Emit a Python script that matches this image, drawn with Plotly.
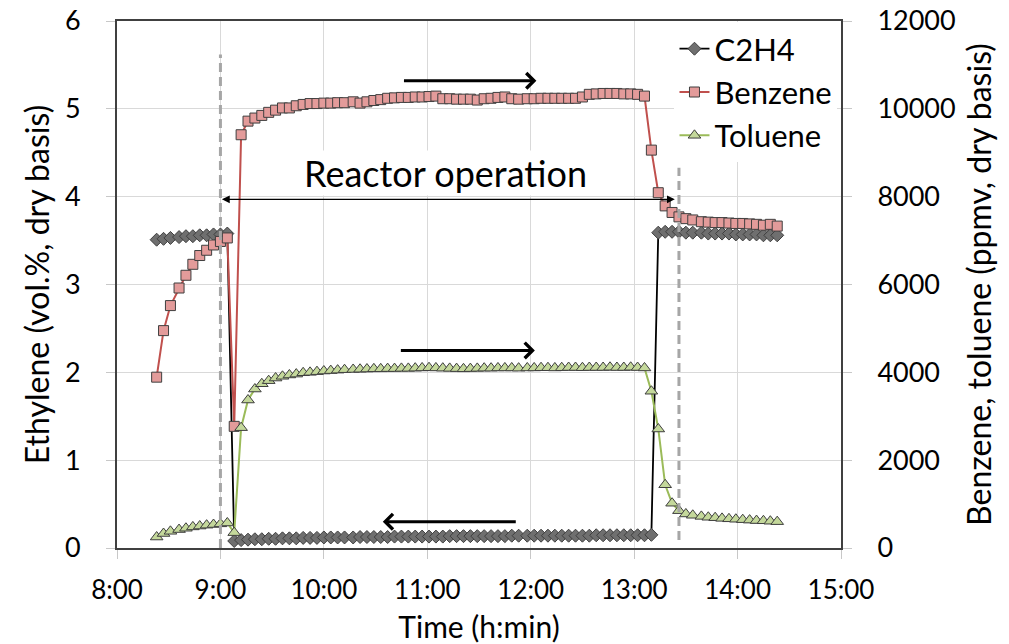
import plotly.graph_objects as go

# Sampling times (h:min) of the gas analysis
times = [
    "8:23", "8:27", "8:31", "8:36", "8:40", "8:44", "8:48", "8:52", "8:56", "9:00",
    "9:04", "9:08", "9:12", "9:16", "9:20", "9:24", "9:28", "9:32", "9:36", "9:40",
    "9:44", "9:48", "9:52", "9:56", "10:00", "10:04", "10:08", "10:12", "10:17", "10:21",
    "10:25", "10:29", "10:33", "10:37", "10:41", "10:45", "10:49", "10:53", "10:57", "11:01",
    "11:05", "11:09", "11:13", "11:17", "11:21", "11:25", "11:29", "11:33", "11:37", "11:41",
    "11:45", "11:49", "11:53", "11:58", "12:02", "12:06", "12:10", "12:14", "12:18", "12:22",
    "12:26", "12:30", "12:34", "12:38", "12:42", "12:46", "12:50", "12:54", "12:58", "13:02",
    "13:06", "13:10", "13:14", "13:18", "13:22", "13:26", "13:30", "13:34", "13:39", "13:43",
    "13:47", "13:51", "13:55", "13:59", "14:03", "14:07", "14:11", "14:15", "14:19", "14:23",
]

# Ethylene, vol.% (dry basis) - left axis
c2h4 = [
    3.51, 3.52, 3.53, 3.54, 3.55, 3.55, 3.56, 3.56, 3.57, 3.57, 3.58,
    0.08,
    0.09, 0.095, 0.10, 0.10, 0.105, 0.105, 0.11, 0.11, 0.11, 0.115,
    0.115, 0.115, 0.12, 0.12, 0.12, 0.12, 0.12, 0.125, 0.125, 0.125,
    0.125, 0.125, 0.13, 0.13, 0.13, 0.13, 0.13, 0.13, 0.13, 0.13,
    0.135, 0.135, 0.135, 0.135, 0.135, 0.135, 0.135, 0.135, 0.135, 0.14,
    0.14, 0.14, 0.14, 0.14, 0.14, 0.14, 0.14, 0.14, 0.14, 0.14,
    0.14, 0.145, 0.145, 0.145, 0.145, 0.145, 0.145, 0.145, 0.145, 0.15,
    3.59, 3.60, 3.60, 3.60, 3.59, 3.59, 3.59, 3.58, 3.58, 3.58,
    3.58, 3.57, 3.57, 3.57, 3.57, 3.56, 3.56, 3.56,
]

# Benzene, ppmv (dry basis) - right axis
benzene = [
    3890, 4950, 5520, 5920, 6210, 6460, 6660, 6780, 6900, 6980, 7060,
    2770,
    9410, 9720, 9790, 9850, 9920, 9970, 10020, 10020, 10070, 10100,
    10120, 10120, 10130, 10130, 10140, 10140, 10160, 10130, 10160, 10190,
    10210, 10240, 10250, 10260, 10260, 10270, 10270, 10280, 10290, 10230,
    10230, 10220, 10220, 10220, 10200, 10230, 10240, 10260, 10270, 10230,
    10220, 10230, 10230, 10240, 10240, 10240, 10240, 10240, 10240, 10270,
    10330, 10340, 10350, 10350, 10350,
    10340, 10340, 10330, 10290,
    9060, 8090, 7790, 7640, 7540,
    7500, 7470, 7430, 7420, 7410, 7410, 7400, 7390, 7390, 7380, 7370, 7350, 7370, 7330,
]

# Toluene, ppmv (dry basis) - right axis
toluene = [
    250, 330, 380, 420, 450, 480, 500, 520, 535, 550, 570,
    350,
    2740, 3370, 3620, 3740, 3810, 3870, 3910, 3940, 3960, 3990, 4000,
    4015, 4030, 4040, 4050, 4060, 4065, 4070, 4075, 4080, 4080,
    4085, 4085, 4090, 4090, 4095, 4100, 4105, 4100, 4095, 4090,
    4085, 4080, 4085, 4090, 4095, 4095, 4100, 4100, 4100, 4095,
    4100, 4100, 4105, 4105, 4100, 4105, 4110, 4110, 4105, 4110,
    4110, 4110, 4115, 4110, 4110, 4115, 4110, 4100,
    3570, 2710, 1440, 1020, 850,
    775, 745, 720, 700, 690, 675, 665, 655, 645, 635, 625, 620, 610, 600,
]

hour_ticks = [8, 9, 10, 11, 12, 13, 14, 15]
hour_labels = ["8:00", "9:00", "10:00", "11:00", "12:00", "13:00", "14:00", "15:00"]
ppm_ticks = [0, 2000, 4000, 6000, 8000, 10000, 12000]
ppm_labels = ["0", "2000", "4000", "6000", "8000", "10000", "12000"]

# Start/end of reactor operation (h:min)
op_start = "9:00"
op_end = "13:26"


def to_hours(s):
    h, m = s.split(":")
    return int(h) + int(m) / 60.0


t = [to_hours(s) for s in times]

FONT = "Lato"
EDGE = "#3f3f3f"

fig = go.Figure()

fig.add_trace(go.Scatter(
    x=t, y=c2h4, name="C2H4", mode="lines+markers",
    line=dict(color="#000000", width=1.8),
    marker=dict(symbol="diamond", size=10, color="#6f6f6f", line=dict(color=EDGE, width=1)),
))
fig.add_trace(go.Scatter(
    x=t, y=benzene, name="Benzene", mode="lines+markers", yaxis="y2",
    line=dict(color="#c0504d", width=2),
    marker=dict(symbol="square", size=10, color="#e39b9a", line=dict(color=EDGE, width=1)),
))
fig.add_trace(go.Scatter(
    x=t, y=toluene, name="Toluene", mode="lines+markers", yaxis="y2",
    line=dict(color="#9bbb59", width=2),
    marker=dict(symbol="triangle-up", size=11, color="#c4d89b", line=dict(color=EDGE, width=1)),
))

x0 = to_hours(op_start)
x1 = to_hours(op_end)

# Dashed markers for start and end of operation
fig.add_shape(type="line", xref="x", yref="y", x0=x0, x1=x0, y0=0, y1=5.62,
              line=dict(color="#a6a6a6", width=3, dash="9px,5px"), layer="above")
fig.add_shape(type="line", xref="x", yref="y", x0=x1, x1=x1, y0=0.09, y1=4.33,
              line=dict(color="#a6a6a6", width=3, dash="9px,5px"), layer="above")

annotations = [
    dict(x=11.18, y=4.27, xref="x", yref="y", text="Reactor operation", showarrow=False,
         font=dict(family=FONT, size=36, color="#000"), bgcolor="white", borderpad=0),
    # double-headed span arrow
    dict(x=x1 - 0.04, y=3.97, ax=x0, ay=3.97, xref="x", yref="y", axref="x", ayref="y",
         text="", showarrow=True, arrowside="end+start", arrowhead=2, startarrowhead=2,
         arrowsize=1.3, startarrowsize=1.3, arrowwidth=1.2, arrowcolor="#000", standoff=0,
         startstandoff=0),
    # benzene axis arrow (top)
    dict(x=12.055, y=5.32, ax=10.76, ay=5.32, xref="x", yref="y", axref="x", ayref="y",
         text="", showarrow=True, arrowhead=4, arrowsize=1, arrowwidth=3, arrowcolor="#000"),
    # toluene axis arrow (middle)
    dict(x=12.04, y=2.25, ax=10.73, ay=2.25, xref="x", yref="y", axref="x", ayref="y",
         text="", showarrow=True, arrowhead=4, arrowsize=1, arrowwidth=3, arrowcolor="#000"),
    # ethylene axis arrow (bottom)
    dict(x=10.57, y=0.30, ax=11.87, ay=0.30, xref="x", yref="y", axref="x", ayref="y",
         text="", showarrow=True, arrowhead=4, arrowsize=1, arrowwidth=3, arrowcolor="#000"),
]

fig.update_layout(
    width=1009, height=644,
    margin=dict(l=117, r=168, t=21, b=96, autoexpand=False),
    paper_bgcolor="white", plot_bgcolor="white",
    font=dict(family=FONT, size=27, color="#000"),
    showlegend=True,
    legend=dict(x=0.77, y=0.998, xanchor="left", yanchor="top", bgcolor="white",
                font=dict(family=FONT, size=31), tracegroupgap=0, itemwidth=30),
    annotations=annotations,
    xaxis=dict(
        range=[8, 15], tickmode="array", tickvals=hour_ticks, ticktext=hour_labels,
        showgrid=True, gridcolor="#d9d9d9", gridwidth=1, zeroline=False,
        showline=True, linecolor="#404040", linewidth=2, mirror=True,
        ticks="outside", ticklen=9, tickcolor="#c8c8c8", tickwidth=1,
        ticklabelstandoff=9, tickfont=dict(size=26), automargin=False,
        title=dict(text="Time (h:min)", font=dict(size=30), standoff=16),
    ),
    yaxis=dict(
        range=[0, 6], dtick=1, showgrid=True, gridcolor="#d9d9d9", gridwidth=1,
        zeroline=False, showline=True, linecolor="#404040", linewidth=2,
        ticks="outside", ticklen=9, tickcolor="#c8c8c8", tickwidth=1,
        ticklabelstandoff=20, tickfont=dict(size=27), automargin=False,
        title=dict(text="Ethylene (vol.%, dry basis)", font=dict(size=32), standoff=6),
    ),
    yaxis2=dict(
        range=[0, 12000], tickmode="array", tickvals=ppm_ticks, ticktext=ppm_labels,
        overlaying="y", side="right",
        showgrid=False, zeroline=False, showline=True, linecolor="#404040", linewidth=2,
        ticks="outside", ticklen=9, tickcolor="#c8c8c8", tickwidth=1,
        ticklabelstandoff=20, tickfont=dict(size=27), automargin=False,
        title=dict(text="Benzene, toluene (ppmv, dry basis)", font=dict(size=32), standoff=14),
    ),
)

fig.write_html("out.html")
